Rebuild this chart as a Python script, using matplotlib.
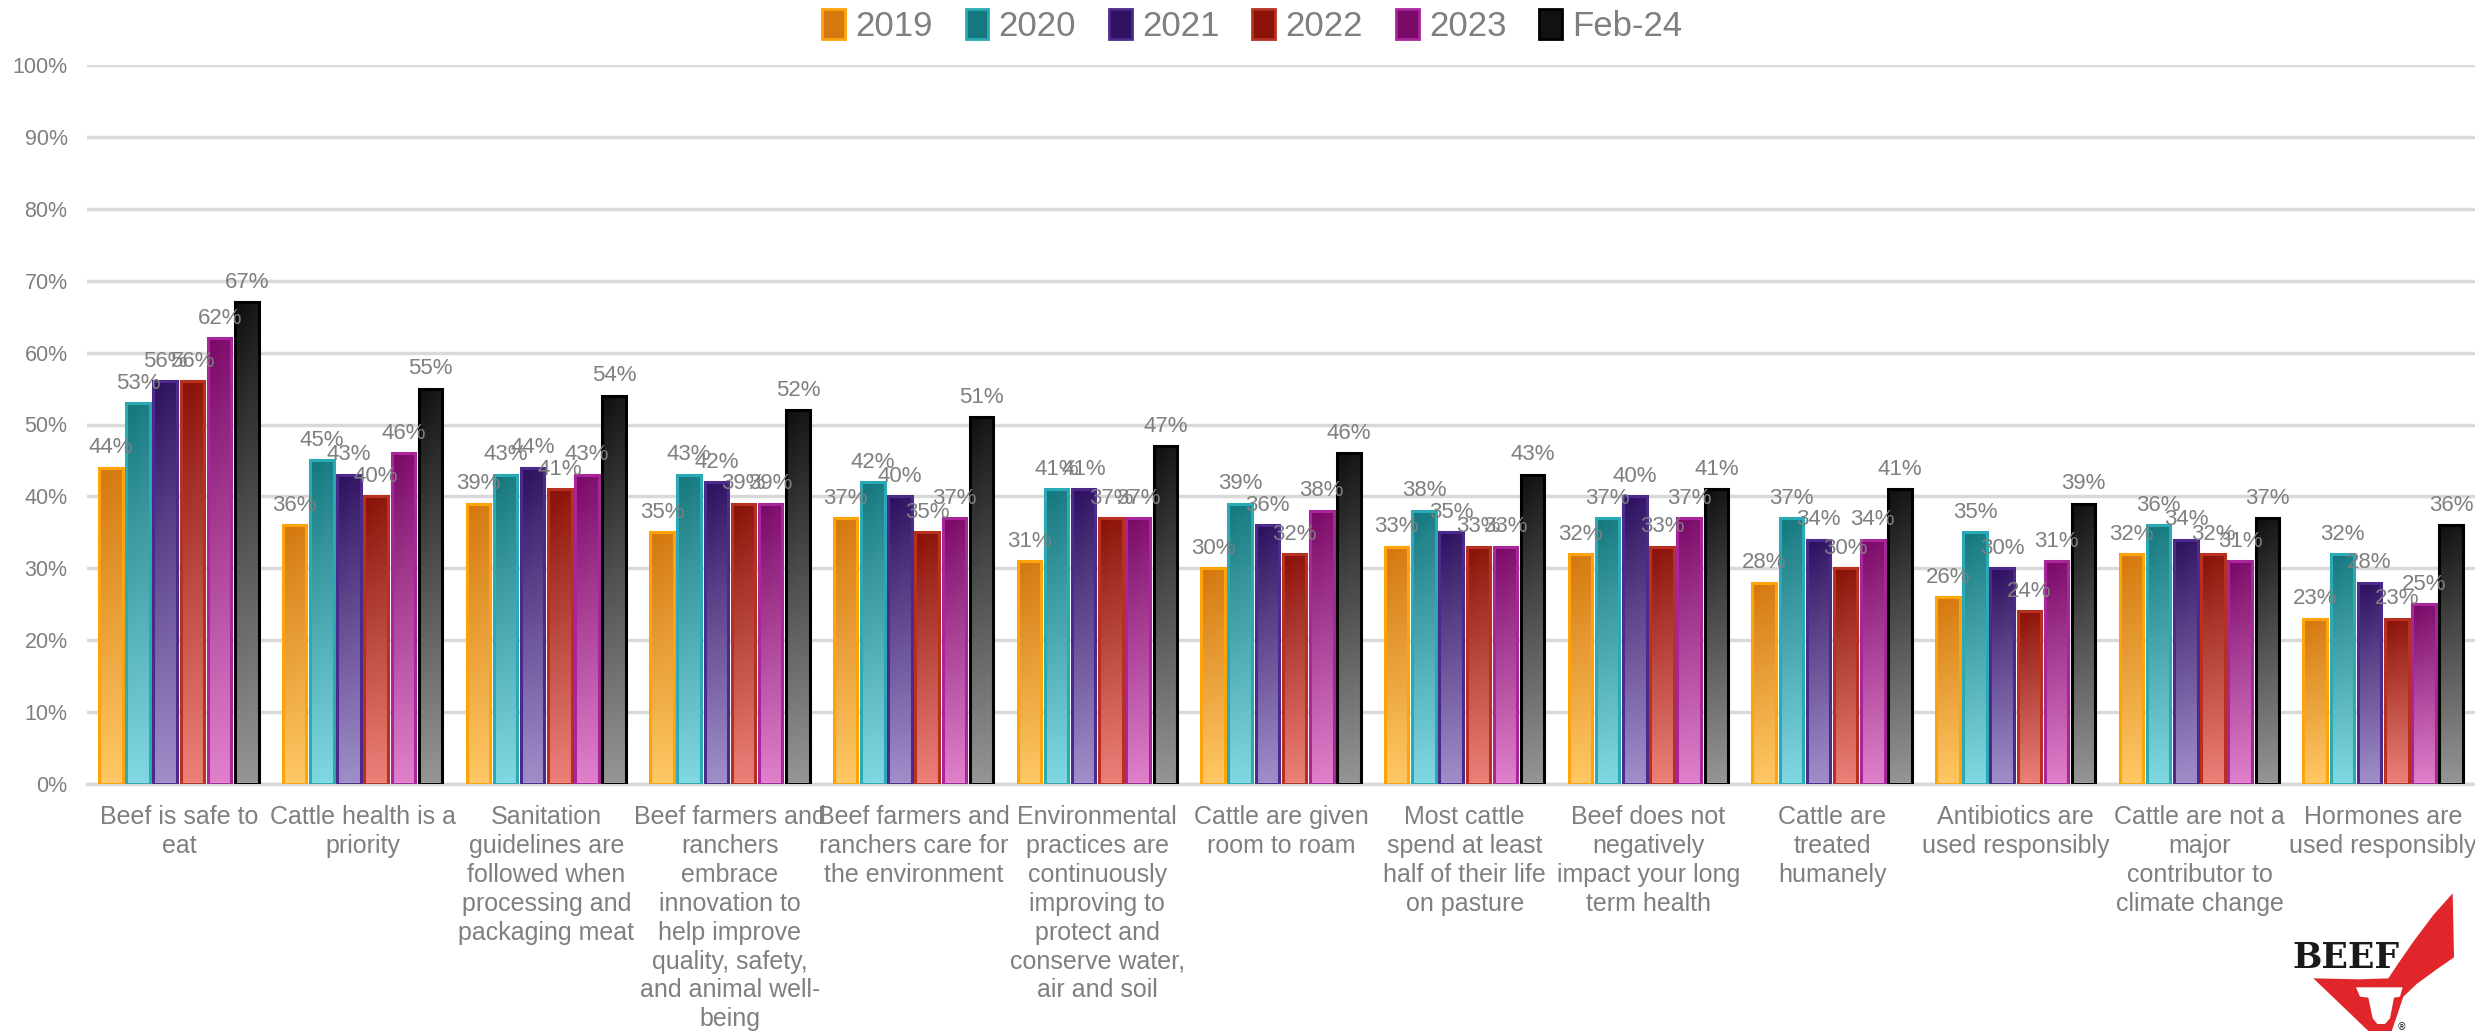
import numpy as np
import matplotlib.pyplot as plt
from matplotlib.colors import to_rgb
from matplotlib.patches import Patch, Polygon

# Données du sondage (% d'accord par affirmation)
categories = [
    "Beef is safe to\neat",
    "Cattle health is a\npriority",
    "Sanitation\nguidelines are\nfollowed when\nprocessing and\npackaging meat",
    "Beef farmers and\nranchers\nembrace\ninnovation to\nhelp improve\nquality, safety,\nand animal well-\nbeing",
    "Beef farmers and\nranchers care for\nthe environment",
    "Environmental\npractices are\ncontinuously\nimproving to\nprotect and\nconserve water,\nair and soil",
    "Cattle are given\nroom to roam",
    "Most cattle\nspend at least\nhalf of their life\non pasture",
    "Beef does not\nnegatively\nimpact your long\nterm health",
    "Cattle are\ntreated\nhumanely",
    "Antibiotics are\nused responsibly",
    "Cattle are not a\nmajor\ncontributor to\nclimate change",
    "Hormones are\nused responsibly",
]
series = ["2019", "2020", "2021", "2022", "2023", "Feb-24"]

v2019 = [44, 36, 39, 35, 37, 31, 30, 33, 32, 28, 26, 32, 23]
v2020 = [53, 45, 43, 43, 42, 41, 39, 38, 37, 37, 35, 36, 32]
v2021 = [56, 43, 44, 42, 40, 41, 36, 35, 40, 34, 30, 34, 28]
v2022 = [56, 40, 41, 39, 35, 37, 32, 33, 33, 30, 24, 32, 23]
v2023 = [62, 46, 43, 39, 37, 37, 38, 33, 37, 34, 31, 31, 25]
vfeb24 = [67, 55, 54, 52, 51, 47, 46, 43, 41, 41, 39, 37, 36]
valeurs = [v2019, v2020, v2021, v2022, v2023, vfeb24]

# (haut, bas, contour) pour chaque série
couleurs = [
    ("#d4780f", "#ffc864", "#ffa30a"),
    ("#16787f", "#80d8e2", "#2aaab5"),
    ("#2e1160", "#a08eca", "#4c2a8c"),
    ("#8a1208", "#ec8078", "#b83020"),
    ("#7a0a68", "#e080cc", "#a8269a"),
    ("#111111", "#959595", "#000000"),
]

GRIS = "#7f7f7f"
POLICE = ["Liberation Sans", "DejaVu Sans"]

fig = plt.figure(figsize=(24.75, 10.31), dpi=100)
ax = fig.add_axes([87 / 2475, 1 - 784 / 1031, 1 - 87 / 2475, (784 - 65) / 1031])

n = len(categories)
x = np.arange(n)
pas = 0.148
largeur = 0.128

def degrade(haut, bas, k=64):
    h, b = np.array(to_rgb(haut)), np.array(to_rgb(bas))
    t = np.linspace(0, 1, k)[:, None]
    col = h * (1 - t) + b * t
    img = np.stack([col, col * 0.95 + 0.05 * b], axis=1)
    return img

for j, (nom, vals) in enumerate(zip(series, valeurs)):
    haut, bas, bord = couleurs[j]
    pos = x + (j - 2.5) * pas
    barres = ax.bar(pos, vals, largeur, facecolor="none", edgecolor=bord,
                    linewidth=2.2, zorder=3)
    img = degrade(haut, bas)
    for b, v in zip(barres, vals):
        x0 = b.get_x()
        im = ax.imshow(img, extent=(x0, x0 + largeur, 0, v), aspect="auto",
                       origin="upper", zorder=2, interpolation="bilinear")
        im.set_clip_path(b)
        ax.text(x0 + largeur / 2, v + 2.0, f"{v}%", ha="center", va="baseline",
                fontsize=16, color=GRIS, family=POLICE, zorder=4)

ax.set_xlim(-0.5, n - 0.5)
ax.set_ylim(0, 100)
ax.set_yticks(np.arange(0, 101, 10))
ax.set_yticklabels([f"{t}%" for t in range(0, 101, 10)], fontsize=15.5,
                   color=GRIS, family=POLICE)
ax.set_xticks(x)
ax.set_xticklabels(categories, fontsize=18, color=GRIS, family=POLICE,
                   linespacing=1.26, va="top")
ax.tick_params(axis="both", length=0)
ax.tick_params(axis="y", pad=14)
ax.tick_params(axis="x", pad=15)
ax.grid(axis="y", color="#d9d9d9", linewidth=2.5, zorder=0)
ax.set_axisbelow(True)
for s in ["top", "right", "left"]:
    ax.spines[s].set_visible(False)
ax.spines["bottom"].set_color("#d9d9d9")
ax.spines["bottom"].set_linewidth(2.5)

poignees = [Patch(facecolor=c[0], edgecolor=c[2], linewidth=2) for c in couleurs]
leg = fig.legend(poignees, series, loc="center", bbox_to_anchor=(0.506, 0.975),
                 ncol=6, frameon=False, handlelength=0.65, handleheight=0.95,
                 handletextpad=0.3, columnspacing=0.95,
                 prop={"family": POLICE, "size": 25})
for t in leg.get_texts():
    t.set_color(GRIS)

# Logo BEEF en bas à droite
logo = fig.add_axes([2250 / 2475, 0, 225 / 2475, 181 / 1031])
logo.set_xlim(0, 675)
logo.set_ylim(543, 0)
logo.axis("off")
rouge = [(608, 130), (612, 322), (560, 358), (500, 402), (460, 440), (440, 500),
         (425, 543), (355, 543), (300, 490), (190, 385), (330, 388), (415, 385),
         (445, 340), (490, 275), (550, 195)]
tete = [(318, 412), (458, 412), (450, 440), (432, 443), (420, 505), (405, 522),
        (382, 522), (368, 505), (355, 443), (330, 440)]
logo.add_patch(Polygon(rouge, closed=True, color="#e0262a", lw=0))
logo.add_patch(Polygon(tete, closed=True, color="white", lw=0))
logo.text(288, 325, "BEEF", ha="center", va="center", fontsize=25,
          fontweight="bold", family="DejaVu Serif", color="#1a1a1a")
logo.text(455, 532, "®", ha="center", va="center", fontsize=7, color="#1a1a1a")

fig.savefig("out.png", dpi=100)
